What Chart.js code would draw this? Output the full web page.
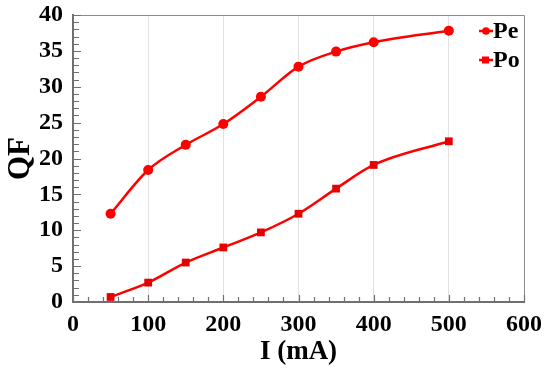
<!DOCTYPE html>
<html>
<head>
<meta charset="utf-8">
<script src="https://cdn.jsdelivr.net/npm/chart.js@4"></script>
<style>
    html, body { margin: 0; padding: 0; background: #fff; }
    #wrap { width: 550px; height: 368px; }
</style>
</head>
<body>
<div id="wrap"><canvas id="qf-chart"></canvas></div>
<script>
// Data
var currents = [50, 100, 150, 200, 250, 300, 350, 400, 500];
var peValues = [12.3, 18.4, 21.9, 24.8, 28.6, 32.8, 34.9, 36.2, 37.8];
var poValues = [0.7, 2.7, 5.5, 7.6, 9.7, 12.3, 15.8, 19.1, 22.4];
var xTicks = [0, 100, 200, 300, 400, 500, 600];
var yTicks = [0, 5, 10, 15, 20, 25, 30, 35, 40];

var FONT = '"Liberation Serif", "Times New Roman", serif';
var RED = '#ff0000';

function toPoints(xs, ys) {
    return xs.map(function (x, i) { return { x: x, y: ys[i] }; });
}

// inward tick marks, frame and legend
var framePlugin = {
    id: 'frame',
    afterDraw: function (chart) {
        var ctx = chart.ctx;
        var a = chart.chartArea;
        var xs = chart.scales.x;
        var ys = chart.scales.y;
        var v, p;
        ctx.save();
        ctx.strokeStyle = '#8c8c8c';
        ctx.lineWidth = 1;
        ctx.beginPath();
        ctx.moveTo(a.left, a.top + 0.5);
        ctx.lineTo(a.right + 0.5, a.top + 0.5);
        ctx.lineTo(a.right + 0.5, a.bottom);
        ctx.stroke();

        ctx.strokeStyle = '#707070';
        ctx.lineWidth = 1.2;
        ctx.beginPath();
        for (v = 0; v <= 600; v += 20) {
            p = Math.round(xs.getPixelForValue(v)) + 0.5;
            ctx.moveTo(p, a.bottom);
            ctx.lineTo(p, a.bottom - (v % 100 === 0 ? 7 : 5));
        }
        for (v = 0; v <= 40; v += 1) {
            p = Math.round(ys.getPixelForValue(v)) + 0.5;
            ctx.moveTo(a.left, p);
            ctx.lineTo(a.left + (v % 5 === 0 ? 8 : 6), p);
        }
        ctx.stroke();

        // legend in the top right corner of the plot
        var items = chart.data.datasets;
        var lx = a.right - 45;
        items.forEach(function (ds, i) {
            var ly = a.top + 16 + i * 29;
            ctx.strokeStyle = RED;
            ctx.lineWidth = 2.5;
            ctx.beginPath();
            ctx.moveTo(lx, ly);
            ctx.lineTo(lx + 14, ly);
            ctx.stroke();
            ctx.fillStyle = RED;
            if (ds.pointStyle === 'rect') {
                ctx.fillRect(lx + 3, ly - 3.5, 7, 7);
            } else {
                ctx.beginPath();
                ctx.arc(lx + 7, ly, 3.8, 0, Math.PI * 2);
                ctx.fill();
            }
            ctx.fillStyle = '#000';
            ctx.font = 'bold 24px ' + FONT;
            ctx.textBaseline = 'middle';
            ctx.textAlign = 'left';
            ctx.fillText(ds.label, lx + 14, ly + 1);
        });
        ctx.restore();
    }
};

var ctx = document.getElementById('qf-chart').getContext('2d');
var qfChart = new Chart(ctx, {
    type: 'line',
    data: {
        datasets: [{
            label: 'Pe',
            data: toPoints(currents, peValues),
            borderColor: RED,
            backgroundColor: RED,
            borderWidth: 2.5,
            tension: 0.4,
            cubicInterpolationMode: 'monotone',
            pointStyle: 'circle',
            pointRadius: 5,
            pointBorderWidth: 0,
            fill: false
        }, {
            label: 'Po',
            data: toPoints(currents, poValues),
            borderColor: RED,
            backgroundColor: '#e60000',
            borderWidth: 2.5,
            tension: 0.4,
            cubicInterpolationMode: 'monotone',
            pointStyle: 'rect',
            pointRadius: 5.5,
            pointBorderWidth: 0,
            fill: false
        }]
    },
    options: {
        responsive: true,
        maintainAspectRatio: false,
        animation: false,
        layout: {
            padding: { top: 15, right: 24, bottom: 0, left: 0 }
        },
        plugins: {
            legend: { display: false },
            tooltip: { enabled: false }
        },
        scales: {
            x: {
                type: 'linear',
                min: 0,
                max: 600,
                afterBuildTicks: function (scale) {
                    scale.ticks = xTicks.map(function (v) { return { value: v }; });
                },
                afterFit: function (scale) { scale.height = 66; },
                border: { display: true, color: '#707070', width: 2 },
                grid: {
                    drawTicks: false,
                    color: function (c) {
                        return (c.tick && (c.tick.value === 0 || c.tick.value === 600)) ? 'rgba(0,0,0,0)' : '#e2e2e2';
                    },
                    lineWidth: 1
                },
                ticks: {
                    padding: 8,
                    color: '#000',
                    maxRotation: 0,
                    font: { family: FONT, size: 24, weight: 'bold' }
                },
                title: {
                    display: true,
                    text: 'I (mA)',
                    color: '#000',
                    padding: { top: -3, bottom: 0 },
                    font: { family: FONT, size: 27, weight: 'bold' }
                }
            },
            y: {
                min: 0,
                max: 40,
                afterBuildTicks: function (scale) {
                    scale.ticks = yTicks.map(function (v) { return { value: v }; });
                },
                afterFit: function (scale) {
                    scale.width = 73;
                    scale.paddingTop = 0;
                    scale.paddingBottom = 0;
                },
                border: { display: true, color: '#707070', width: 2 },
                grid: { display: false, drawTicks: false },
                ticks: {
                    padding: 10,
                    color: '#000',
                    font: { family: FONT, size: 24, weight: 'bold' }
                },
                title: {
                    display: true,
                    text: 'QF',
                    color: '#000',
                    padding: { top: 2, bottom: 0 },
                    font: { family: FONT, size: 31, weight: 'bold' }
                }
            }
        }
    },
    plugins: [framePlugin]
});
</script>
</body>
</html>
